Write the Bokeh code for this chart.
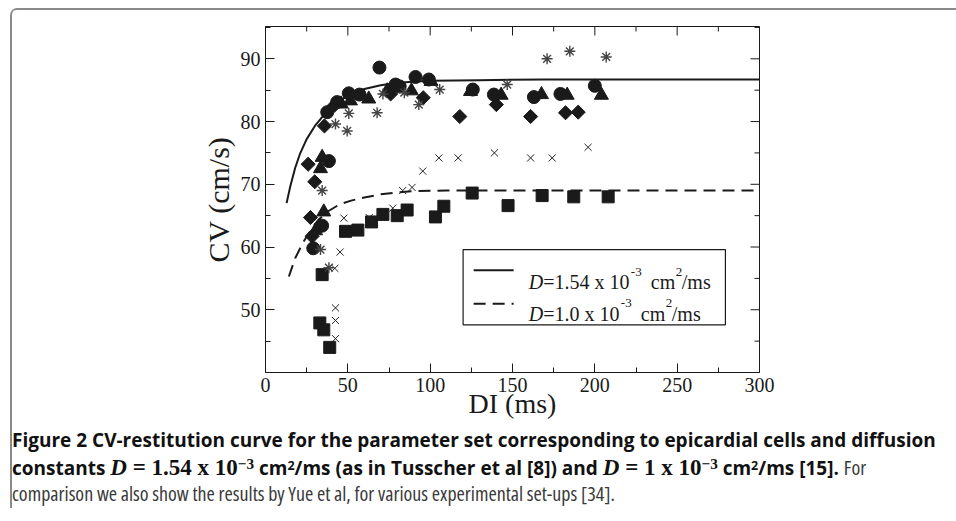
import math as _m
from bokeh.plotting import figure
from bokeh.models import Range1d, FixedTicker, Label, Div
from bokeh.layouts import column
from bokeh.embed import file_html
from bokeh.resources import INLINE

# ---------------- data ----------------
x_ticks = [0, 50, 100, 150, 200, 250, 300]
x_minor = [25, 75, 125, 175, 225, 275]
y_ticks = [50, 60, 70, 80, 90]
y_minor = [45, 55, 65, 75, 85, 95]

circ_x = [29, 34.4, 38.5, 37.5, 43.5, 50.6, 57.1, 69.2, 79, 81.5, 91.1, 99.2, 125.9, 138.7, 163, 179.1, 200]
circ_y = [59.8, 63.4, 73.7, 81.5, 83.1, 84.5, 84.3, 88.6, 85.9, 85.6, 87.1, 86.7, 85.1, 84.3, 83.9, 84.4, 85.7]

tri_x = [30.4, 35.4, 33.4, 34.4, 46.0, 51.6, 62.7, 73.9, 88.6, 100.5, 124.5, 143.1, 167.6, 183.2, 204]
tri_y = [62.6, 65.6, 72.5, 74.3, 82.8, 83.3, 83.6, 84.9, 84.9, 86.4, 84.8, 84.2, 84.3, 84.2, 84.2]

dia_x = [27.3, 28.3, 25.9, 29.9, 35.8, 41.9, 76, 95.8, 118, 140.2, 161, 182.2, 189.9]
dia_y = [64.7, 61.7, 73.2, 70.4, 79.3, 82.6, 84.4, 83.8, 80.8, 82.7, 80.8, 81.4, 81.5]

ast_x = [33.4, 38.5, 34.4, 42.5, 49.6, 50.6, 67.8, 71.3, 84.3, 93.1, 105.8, 146.8, 171, 184.8, 206.9]
ast_y = [59.6, 56.7, 69.0, 79.6, 78.5, 81.3, 81.4, 84.4, 84.6, 82.7, 85.1, 85.9, 90.0, 91.2, 90.3]

x_x = [42.5, 42.5, 42.5, 42.1, 45.3, 47.6, 63, 77.3, 83.3, 89, 95.5, 105.3, 117, 139, 161, 174.1, 195.9]
x_y = [45.4, 48.3, 50.3, 56.6, 59.2, 64.6, 64.7, 66.2, 69.0, 69.5, 72.1, 74.2, 74.2, 75.0, 74.2, 74.2, 75.9]

sq_x = [33, 35.4, 39, 34.4, 48.6, 56.1, 64.4, 71.3, 80, 86, 103.2, 108.3, 125.5, 147.3, 168, 187.2, 208.1]
sq_y = [47.9, 46.8, 44.0, 55.6, 62.5, 62.7, 64.0, 65.2, 65.0, 65.9, 64.8, 66.5, 68.6, 66.6, 68.2, 68.0, 68.0]

solid_x = [12.8, 15, 18, 21, 25, 30, 35, 40, 45, 50, 60, 70, 80, 100, 130, 170, 220, 300]
solid_y = [67.0, 69.6, 72.6, 74.9, 77.2, 79.3, 80.9, 82.2, 83.3, 84.1, 85.2, 85.8, 86.2, 86.5, 86.6, 86.7, 86.7, 86.7]

dash_x = [14.2, 18, 23, 28, 32, 38, 45, 52, 60, 70, 80, 90, 110, 150, 200, 300]
dash_y = [55.3, 58.2, 60.8, 62.9, 64.3, 65.7, 66.8, 67.4, 67.9, 68.4, 68.7, 68.9, 69.0, 69.0, 69.0, 69.0]

X_LO, X_HI = 0, 300
Y_LO, Y_HI = 40, 95.15

# ---------------- figure ----------------
SERIF = "Liberation Serif"
INK = "#1a1a1a"

p = figure(frame_width=494, frame_height=346,
           x_range=Range1d(X_LO, X_HI), y_range=Range1d(Y_LO, Y_HI),
           output_backend="svg", toolbar_location=None,
           min_border_left=253, min_border_right=187,
           min_border_top=16, min_border_bottom=30)
p.grid.visible = False
p.outline_line_color = INK
p.background_fill_color = "white"
p.border_fill_color = "white"

xt = FixedTicker(ticks=x_ticks, minor_ticks=x_minor)
yt = FixedTicker(ticks=y_ticks, minor_ticks=y_minor)

p.xaxis.ticker = xt
p.yaxis.ticker = yt
for ax in (p.xaxis[0], p.yaxis[0]):
    ax.axis_line_color = INK
    ax.major_tick_line_color = INK
    ax.minor_tick_line_color = INK
    ax.major_tick_in = 9
    ax.major_tick_out = 0
    ax.minor_tick_in = 5
    ax.minor_tick_out = 0
    ax.major_label_text_font = SERIF
    ax.major_label_text_color = INK
    ax.major_label_text_font_size = "20px"
    ax.major_label_standoff = 5
    ax.axis_label_text_font = SERIF
    ax.axis_label_text_font_style = "normal"
    ax.axis_label_text_color = INK
p.xaxis.axis_label = "DI (ms)"
p.yaxis.axis_label = "CV (cm/s)"
p.xaxis.axis_label_text_font_size = "28px"
p.yaxis.axis_label_text_font_size = "30px"
p.xaxis.axis_label_standoff = -7
p.yaxis.axis_label_standoff = 3

# mirrored ticks on the top and right frame edges
up = _m.pi / 2
p.ray(x=x_ticks, y=[Y_HI] * len(x_ticks), length=9, length_units="screen",
      angle=-up, line_color=INK, line_width=1)
p.ray(x=x_minor, y=[Y_HI] * len(x_minor), length=5, length_units="screen",
      angle=-up, line_color=INK, line_width=1)
p.ray(x=[X_HI] * len(y_ticks), y=y_ticks, length=9, length_units="screen",
      angle=_m.pi, line_color=INK, line_width=1)
p.ray(x=[X_HI] * len(y_minor), y=y_minor, length=5, length_units="screen",
      angle=_m.pi, line_color=INK, line_width=1)

# curves
p.line(solid_x, solid_y, line_color=INK, line_width=2)
p.line(dash_x, dash_y, line_color=INK, line_width=2, line_dash="12 7")

# markers
p.scatter(sq_x, sq_y, marker="square", size=12, fill_color=INK, line_color=INK)
p.scatter(x_x, x_y, marker="x", size=10, line_color="#222222", line_width=1)
p.scatter(dia_x, dia_y, marker="square", angle=_m.pi / 4, size=10, fill_color=INK, line_color=INK)
p.scatter(tri_x, tri_y, marker="triangle", size=14, fill_color=INK, line_color=INK)
p.scatter(circ_x, circ_y, marker="circle", size=13, fill_color=INK, line_color=INK)
p.scatter(ast_x, ast_y, marker="asterisk", size=11, line_color="#444444", line_width=1.4)

# legend box
p.quad(left=[120], right=[279.3], top=[59.6], bottom=[47.6],
       fill_color="white", line_color=INK, line_width=1.2)
p.line([126.4, 150.7], [56.3, 56.3], line_color=INK, line_width=2)
p.line([126.4, 150.7], [50.96, 50.96], line_color=INK, line_width=2, line_dash="12 7")

LEG_X = 159.9
legend_rows = [
    (54.4, 56.0, [("D", 0, 20, "italic", False), ("=1.54 x 10", 14.4, 20, "normal", False),
                  ("-3", 102, 13, "normal", True), ("cm", 122, 20, "normal", False),
                  ("2", 147, 13, "normal", True), ("/ms", 153, 20, "normal", False)]),
    (49.36, 51.0, [("D", 0, 20, "italic", False), ("=1.0 x 10", 14.4, 20, "normal", False),
                   ("-3", 92, 13, "normal", True), ("cm", 112, 20, "normal", False),
                   ("2", 137, 13, "normal", True), ("/ms", 143, 20, "normal", False)]),
]
for base, sup, pieces in legend_rows:
    for txt, off, size, style, is_sup in pieces:
        p.add_layout(Label(x=LEG_X, y=sup if is_sup else base, x_offset=off, text=txt,
                           text_font=SERIF, text_font_size=f"{size}px",
                           text_font_style=style, text_color=INK,
                           text_baseline="alphabetic", text_align="left"))

# ---------------- caption ----------------
mfont = "font-family:'Liberation Serif'; font-size:23px; font-weight:bold;"
reg = "font-weight:normal; font-stretch:75%; font-size:20px; color:#3a3a3a;"
sup = "<span style=\"vertical-align:0.38em; line-height:0; font-size:66%;\">"
cap_html = (
    "<div style=\"font-family:'Open Sans'; font-size:19px; line-height:26px; "
    "white-space:nowrap; font-stretch:100%; color:#111;\">"
    "<div><b>Figure 2 CV-restitution curve for the parameter set corresponding to epicardial cells and diffusion</b></div>"
    "<div style=\"margin-top:2px;\">"
    f"<b>constants <span style=\"{mfont}\"><i>D</i> = 1.54 x 10{sup}&minus;3</span></span> cm{sup}2</span>/ms "
    f"(as in Tusscher et al [8]) and <span style=\"{mfont}\"><i>D</i> = 1 x 10{sup}&minus;3</span></span> "
    f"cm{sup}2</span>/ms [15].</b> <span style=\"{reg}\">For</span></div>"
    f"<div><span style=\"{reg}\">comparison we also show the results by Yue et al, for various experimental set-ups [34].</span></div>"
    "</div>"
)
cap = Div(text=cap_html, width=944, margin=(6, 0, 0, 0),
          styles={"font-size": "19px", "font-family": "Open Sans"})

layout = column(p, cap, margin=(8, 0, 0, 10),
                styles={"border-top": "2px solid #8a8a8a",
                        "border-left": "2px solid #8a8a8a",
                        "border-top-left-radius": "7px"})

open("out.html", "w").write(file_html(layout, INLINE))
